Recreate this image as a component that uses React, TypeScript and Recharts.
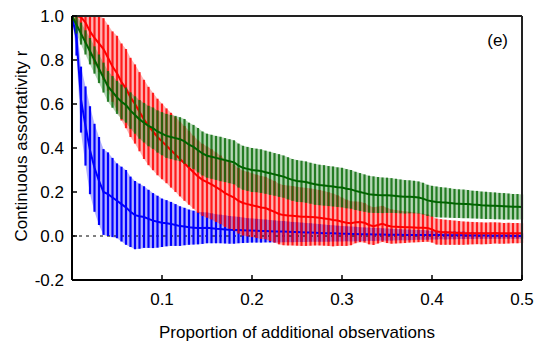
import React from 'react';
import {
  Area,
  ComposedChart,
  ErrorBar,
  Line,
  ReferenceLine,
  XAxis,
  YAxis,
} from 'recharts';

// proportion of additional observations, one sample every 0.005
const STEP = 0.005;
const X_VALUES = Array.from({ length: 101 }, (_, i) => Number((i * STEP).toFixed(3)));

const GREEN_MEAN = [
  1.0, 0.96, 0.92, 0.88, 0.84, 0.8, 0.76, 0.72, 0.68, 0.655,
  0.63, 0.61, 0.595, 0.57, 0.55, 0.53, 0.515, 0.5, 0.49, 0.475,
  0.465, 0.455, 0.45, 0.445, 0.44, 0.43, 0.415, 0.405, 0.39, 0.375,
  0.365, 0.36, 0.355, 0.35, 0.345, 0.34, 0.335, 0.32, 0.31, 0.305,
  0.3, 0.298, 0.295, 0.29, 0.285, 0.28, 0.275, 0.27, 0.262, 0.255,
  0.25, 0.248, 0.245, 0.24, 0.235, 0.232, 0.23, 0.227, 0.225, 0.222,
  0.22, 0.215, 0.212, 0.205, 0.2, 0.195, 0.19, 0.188, 0.186, 0.185,
  0.185, 0.184, 0.182, 0.18, 0.178, 0.178, 0.177, 0.175, 0.17, 0.162,
  0.158, 0.155, 0.153, 0.152, 0.15, 0.148, 0.147, 0.146, 0.145, 0.143,
  0.142, 0.14, 0.139, 0.138, 0.137, 0.136, 0.135, 0.134, 0.133, 0.133,
  0.132,
];
const GREEN_ERR = [
  0, 0.04, 0.05, 0.055, 0.06, 0.062, 0.065, 0.068, 0.07, 0.072,
  0.075, 0.078, 0.08, 0.083, 0.085, 0.088, 0.09, 0.092, 0.094, 0.096,
  0.098, 0.1, 0.1, 0.101, 0.1, 0.102, 0.1, 0.1, 0.101, 0.1,
  0.1, 0.1, 0.1, 0.101, 0.1, 0.1, 0.1, 0.1, 0.1, 0.1,
  0.1, 0.099, 0.099, 0.098, 0.098, 0.097, 0.097, 0.096, 0.096, 0.095,
  0.095, 0.094, 0.094, 0.093, 0.093, 0.092, 0.092, 0.091, 0.091, 0.09,
  0.09, 0.089, 0.088, 0.087, 0.086, 0.085, 0.084, 0.083, 0.082, 0.081,
  0.08, 0.079, 0.078, 0.077, 0.076, 0.075, 0.074, 0.073, 0.072, 0.071,
  0.07, 0.07, 0.069, 0.068, 0.067, 0.066, 0.065, 0.065, 0.064, 0.063,
  0.063, 0.062, 0.062, 0.061, 0.061, 0.06, 0.06, 0.059, 0.058, 0.058,
  0.057,
];

const RED_MEAN = [
  1.0, 1.0, 0.995, 0.97, 0.93, 0.9, 0.875, 0.85, 0.81, 0.77,
  0.74, 0.7, 0.67, 0.63, 0.6, 0.565, 0.53, 0.5, 0.475, 0.45,
  0.43, 0.41, 0.39, 0.37, 0.35, 0.33, 0.31, 0.29, 0.27, 0.255,
  0.245, 0.235, 0.222, 0.21, 0.195, 0.185, 0.175, 0.16, 0.15, 0.145,
  0.14, 0.135, 0.13, 0.127, 0.118, 0.11, 0.1, 0.095, 0.093, 0.092,
  0.09, 0.088, 0.087, 0.086, 0.085, 0.083, 0.08, 0.077, 0.073, 0.07,
  0.065, 0.06, 0.058, 0.062, 0.064, 0.06, 0.05, 0.045, 0.05, 0.055,
  0.048, 0.043, 0.042, 0.041, 0.04, 0.04, 0.039, 0.038, 0.037, 0.036,
  0.03, 0.02, 0.018, 0.017, 0.016, 0.015, 0.014, 0.013, 0.013, 0.013,
  0.013, 0.012, 0.012, 0.013, 0.014, 0.013, 0.012, 0.013, 0.013, 0.013,
  0.013,
];
const RED_ERR = [
  0, 0.04, 0.08, 0.095, 0.11, 0.12, 0.13, 0.14, 0.15, 0.16,
  0.17, 0.175, 0.18, 0.18, 0.18, 0.18, 0.18, 0.178, 0.176, 0.174,
  0.172, 0.17, 0.17, 0.17, 0.17, 0.17, 0.168, 0.166, 0.165, 0.164,
  0.162, 0.16, 0.158, 0.156, 0.154, 0.152, 0.15, 0.149, 0.148, 0.147,
  0.145, 0.144, 0.143, 0.142, 0.141, 0.14, 0.138, 0.137, 0.136, 0.135,
  0.134, 0.133, 0.132, 0.13, 0.128, 0.126, 0.124, 0.122, 0.12, 0.115,
  0.11, 0.105, 0.1, 0.095, 0.092, 0.09, 0.088, 0.086, 0.084, 0.082,
  0.08, 0.078, 0.076, 0.074, 0.072, 0.07, 0.068, 0.066, 0.064, 0.062,
  0.06, 0.059, 0.058, 0.057, 0.056, 0.055, 0.054, 0.053, 0.052, 0.051,
  0.05, 0.05, 0.049, 0.049, 0.048, 0.048, 0.047, 0.047, 0.046, 0.046,
  0.045,
];

const BLUE_MEAN = [
  1.0, 0.9, 0.62, 0.5, 0.39, 0.31, 0.25, 0.2, 0.19, 0.175,
  0.16, 0.145, 0.13, 0.11, 0.095, 0.09, 0.086, 0.078, 0.07, 0.065,
  0.06, 0.058, 0.055, 0.05, 0.045, 0.043, 0.04, 0.038, 0.036, 0.036,
  0.037, 0.035, 0.033, 0.032, 0.03, 0.028, 0.027, 0.027, 0.026, 0.025,
  0.025, 0.024, 0.023, 0.023, 0.022, 0.021, 0.02, 0.02, 0.019, 0.018,
  0.018, 0.017, 0.016, 0.016, 0.015, 0.014, 0.013, 0.012, 0.012, 0.011,
  0.01, 0.01, 0.009, 0.009, 0.008, 0.008, 0.008, 0.007, 0.007, 0.007,
  0.006, 0.006, 0.006, 0.006, 0.005, 0.005, 0.005, 0.005, 0.005, 0.004,
  0.004, 0.004, 0.004, 0.003, 0.003, 0.003, 0.003, 0.003, 0.002, 0.002,
  0.002, 0.002, 0.002, 0.001, 0.001, 0.001, 0.001, 0.001, 0, 0,
  0,
];
const BLUE_ERR = [
  0, 0.08, 0.15, 0.18, 0.2, 0.2, 0.2, 0.195, 0.19, 0.18,
  0.17, 0.17, 0.17, 0.16, 0.155, 0.148, 0.14, 0.132, 0.125, 0.118,
  0.11, 0.105, 0.1, 0.095, 0.09, 0.085, 0.08, 0.077, 0.074, 0.072,
  0.07, 0.068, 0.066, 0.065, 0.064, 0.063, 0.062, 0.06, 0.058, 0.056,
  0.055, 0.054, 0.053, 0.052, 0.051, 0.05, 0.049, 0.048, 0.047, 0.046,
  0.045, 0.044, 0.043, 0.042, 0.041, 0.04, 0.039, 0.038, 0.037, 0.036,
  0.035, 0.034, 0.034, 0.033, 0.032, 0.031, 0.03, 0.03, 0.029, 0.028,
  0.028, 0.027, 0.026, 0.025, 0.025, 0.024, 0.023, 0.022, 0.022, 0.021,
  0.02, 0.02, 0.019, 0.019, 0.018, 0.018, 0.017, 0.017, 0.016, 0.016,
  0.015, 0.015, 0.015, 0.014, 0.014, 0.014, 0.013, 0.013, 0.013, 0.012,
  0.012,
];

const X_TICKS = [0.1, 0.2, 0.3, 0.4, 0.5];
const Y_TICKS = [-0.2, 0, 0.2, 0.4, 0.6, 0.8, 1.0];

const FONT = '"Liberation Sans", Arial, sans-serif';

// error bars are capped at r = 1
const errPair = (m: number, e: number) => [e, Math.min(e, 1 - m)];
const band = (m: number, e: number) => [m - e, Math.min(1, m + e)];

const data = X_VALUES.map((x, i) => ({
  x,
  g: GREEN_MEAN[i],
  gErr: errPair(GREEN_MEAN[i], GREEN_ERR[i]),
  gBand: band(GREEN_MEAN[i], GREEN_ERR[i]),
  r: RED_MEAN[i],
  rErr: errPair(RED_MEAN[i], RED_ERR[i]),
  rBand: band(RED_MEAN[i], RED_ERR[i]),
  b: BLUE_MEAN[i],
  bErr: errPair(BLUE_MEAN[i], BLUE_ERR[i]),
  bBand: band(BLUE_MEAN[i], BLUE_ERR[i]),
}));

const YTick = (props: any) => {
  const { x, y, payload } = props;
  return (
    <g>
      <line x1={x} x2={x + 5} y1={y} y2={y} stroke="#000" strokeWidth={1.5} />
      <text x={x - 8} y={y} dy={6} textAnchor="end" fontSize={17} fontFamily={FONT} fill="#000">
        {Number(payload.value).toFixed(1)}
      </text>
    </g>
  );
};

const XTick = (props: any) => {
  const { x, y, payload } = props;
  return (
    <g>
      <line x1={x} x2={x} y1={y} y2={y - 5} stroke="#000" strokeWidth={1.5} />
      <text x={x} y={y + 25} textAnchor="middle" fontSize={17} fontFamily={FONT} fill="#000">
        {Number(payload.value).toFixed(1)}
      </text>
    </g>
  );
};

export default function App() {
  return (
    <div
      style={{
        position: 'absolute',
        left: 0,
        top: 0,
        width: 544,
        height: 349,
        background: '#fff',
        fontFamily: FONT,
      }}
    >
      <ComposedChart
        width={544}
        height={349}
        data={data}
        margin={{ top: 16, right: 22, left: 0, bottom: 0 }}
      >
        <XAxis
          dataKey="x"
          type="number"
          domain={[0, 0.5]}
          ticks={X_TICKS}
          height={69}
          tickSize={0}
          tickMargin={0}
          tickLine={false}
          tick={<XTick />}
          axisLine={{ stroke: '#000', strokeWidth: 2 }}
        />
        <YAxis
          type="number"
          domain={[-0.2, 1]}
          ticks={Y_TICKS}
          width={72}
          tickSize={0}
          tickMargin={0}
          tickLine={false}
          tick={<YTick />}
          axisLine={{ stroke: '#000', strokeWidth: 2 }}
        />
        <ReferenceLine y={0} stroke="#000" strokeWidth={1} strokeDasharray="3 4" />

        <Area dataKey="bBand" type="linear" stroke="none" fill="#0000ff" fillOpacity={0.3} isAnimationActive={false} />
        <Line dataKey="b" stroke="none" dot={false} activeDot={false} isAnimationActive={false}>
          <ErrorBar dataKey="bErr" width={0} stroke="#0000ff" strokeWidth={2.2} direction="y" isAnimationActive={false} />
        </Line>
        <Line dataKey="b" type="linear" stroke="#0000ff" strokeWidth={2} dot={false} activeDot={false} isAnimationActive={false} />

        <Area dataKey="rBand" type="linear" stroke="none" fill="#ff0000" fillOpacity={0.3} isAnimationActive={false} />
        <Line dataKey="r" stroke="none" dot={false} activeDot={false} isAnimationActive={false}>
          <ErrorBar dataKey="rErr" width={0} stroke="#ff0000" strokeOpacity={0.85} strokeWidth={2.2} direction="y" isAnimationActive={false} />
        </Line>
        <Line dataKey="r" type="linear" stroke="#ff0000" strokeWidth={2} dot={false} activeDot={false} isAnimationActive={false} />

        <Area dataKey="gBand" type="linear" stroke="none" fill="#2e8b2e" fillOpacity={0.35} isAnimationActive={false} />
        <Line dataKey="g" stroke="none" dot={false} activeDot={false} isAnimationActive={false}>
          <ErrorBar dataKey="gErr" width={0} stroke="#0b6b0b" strokeOpacity={0.85} strokeWidth={2.2} direction="y" isAnimationActive={false} />
        </Line>
        <Line dataKey="g" type="linear" stroke="#006400" strokeWidth={2} dot={false} activeDot={false} isAnimationActive={false} />

        <ReferenceLine y={1} stroke="#222" strokeWidth={2} />
        <ReferenceLine x={0.5} stroke="#222" strokeWidth={2} />
      </ComposedChart>

      <div
        style={{
          position: 'absolute',
          left: 97,
          top: 324,
          width: 400,
          textAlign: 'center',
          fontSize: 17,
          lineHeight: '17px',
          color: '#000',
          whiteSpace: 'nowrap',
        }}
      >
        Proportion of additional observations
      </div>
      <div
        style={{
          position: 'absolute',
          left: 22 - 130,
          top: 146 - 10,
          width: 260,
          height: 20,
          lineHeight: '20px',
          textAlign: 'center',
          fontSize: 17,
          color: '#000',
          whiteSpace: 'nowrap',
          transform: 'rotate(-90deg)',
        }}
      >
        Continuous assortativity r
      </div>
      <div
        style={{
          position: 'absolute',
          left: 440,
          top: 32,
          width: 68,
          textAlign: 'right',
          fontSize: 17,
          lineHeight: '17px',
          color: '#000',
        }}
      >
        (e)
      </div>
    </div>
  );
}
